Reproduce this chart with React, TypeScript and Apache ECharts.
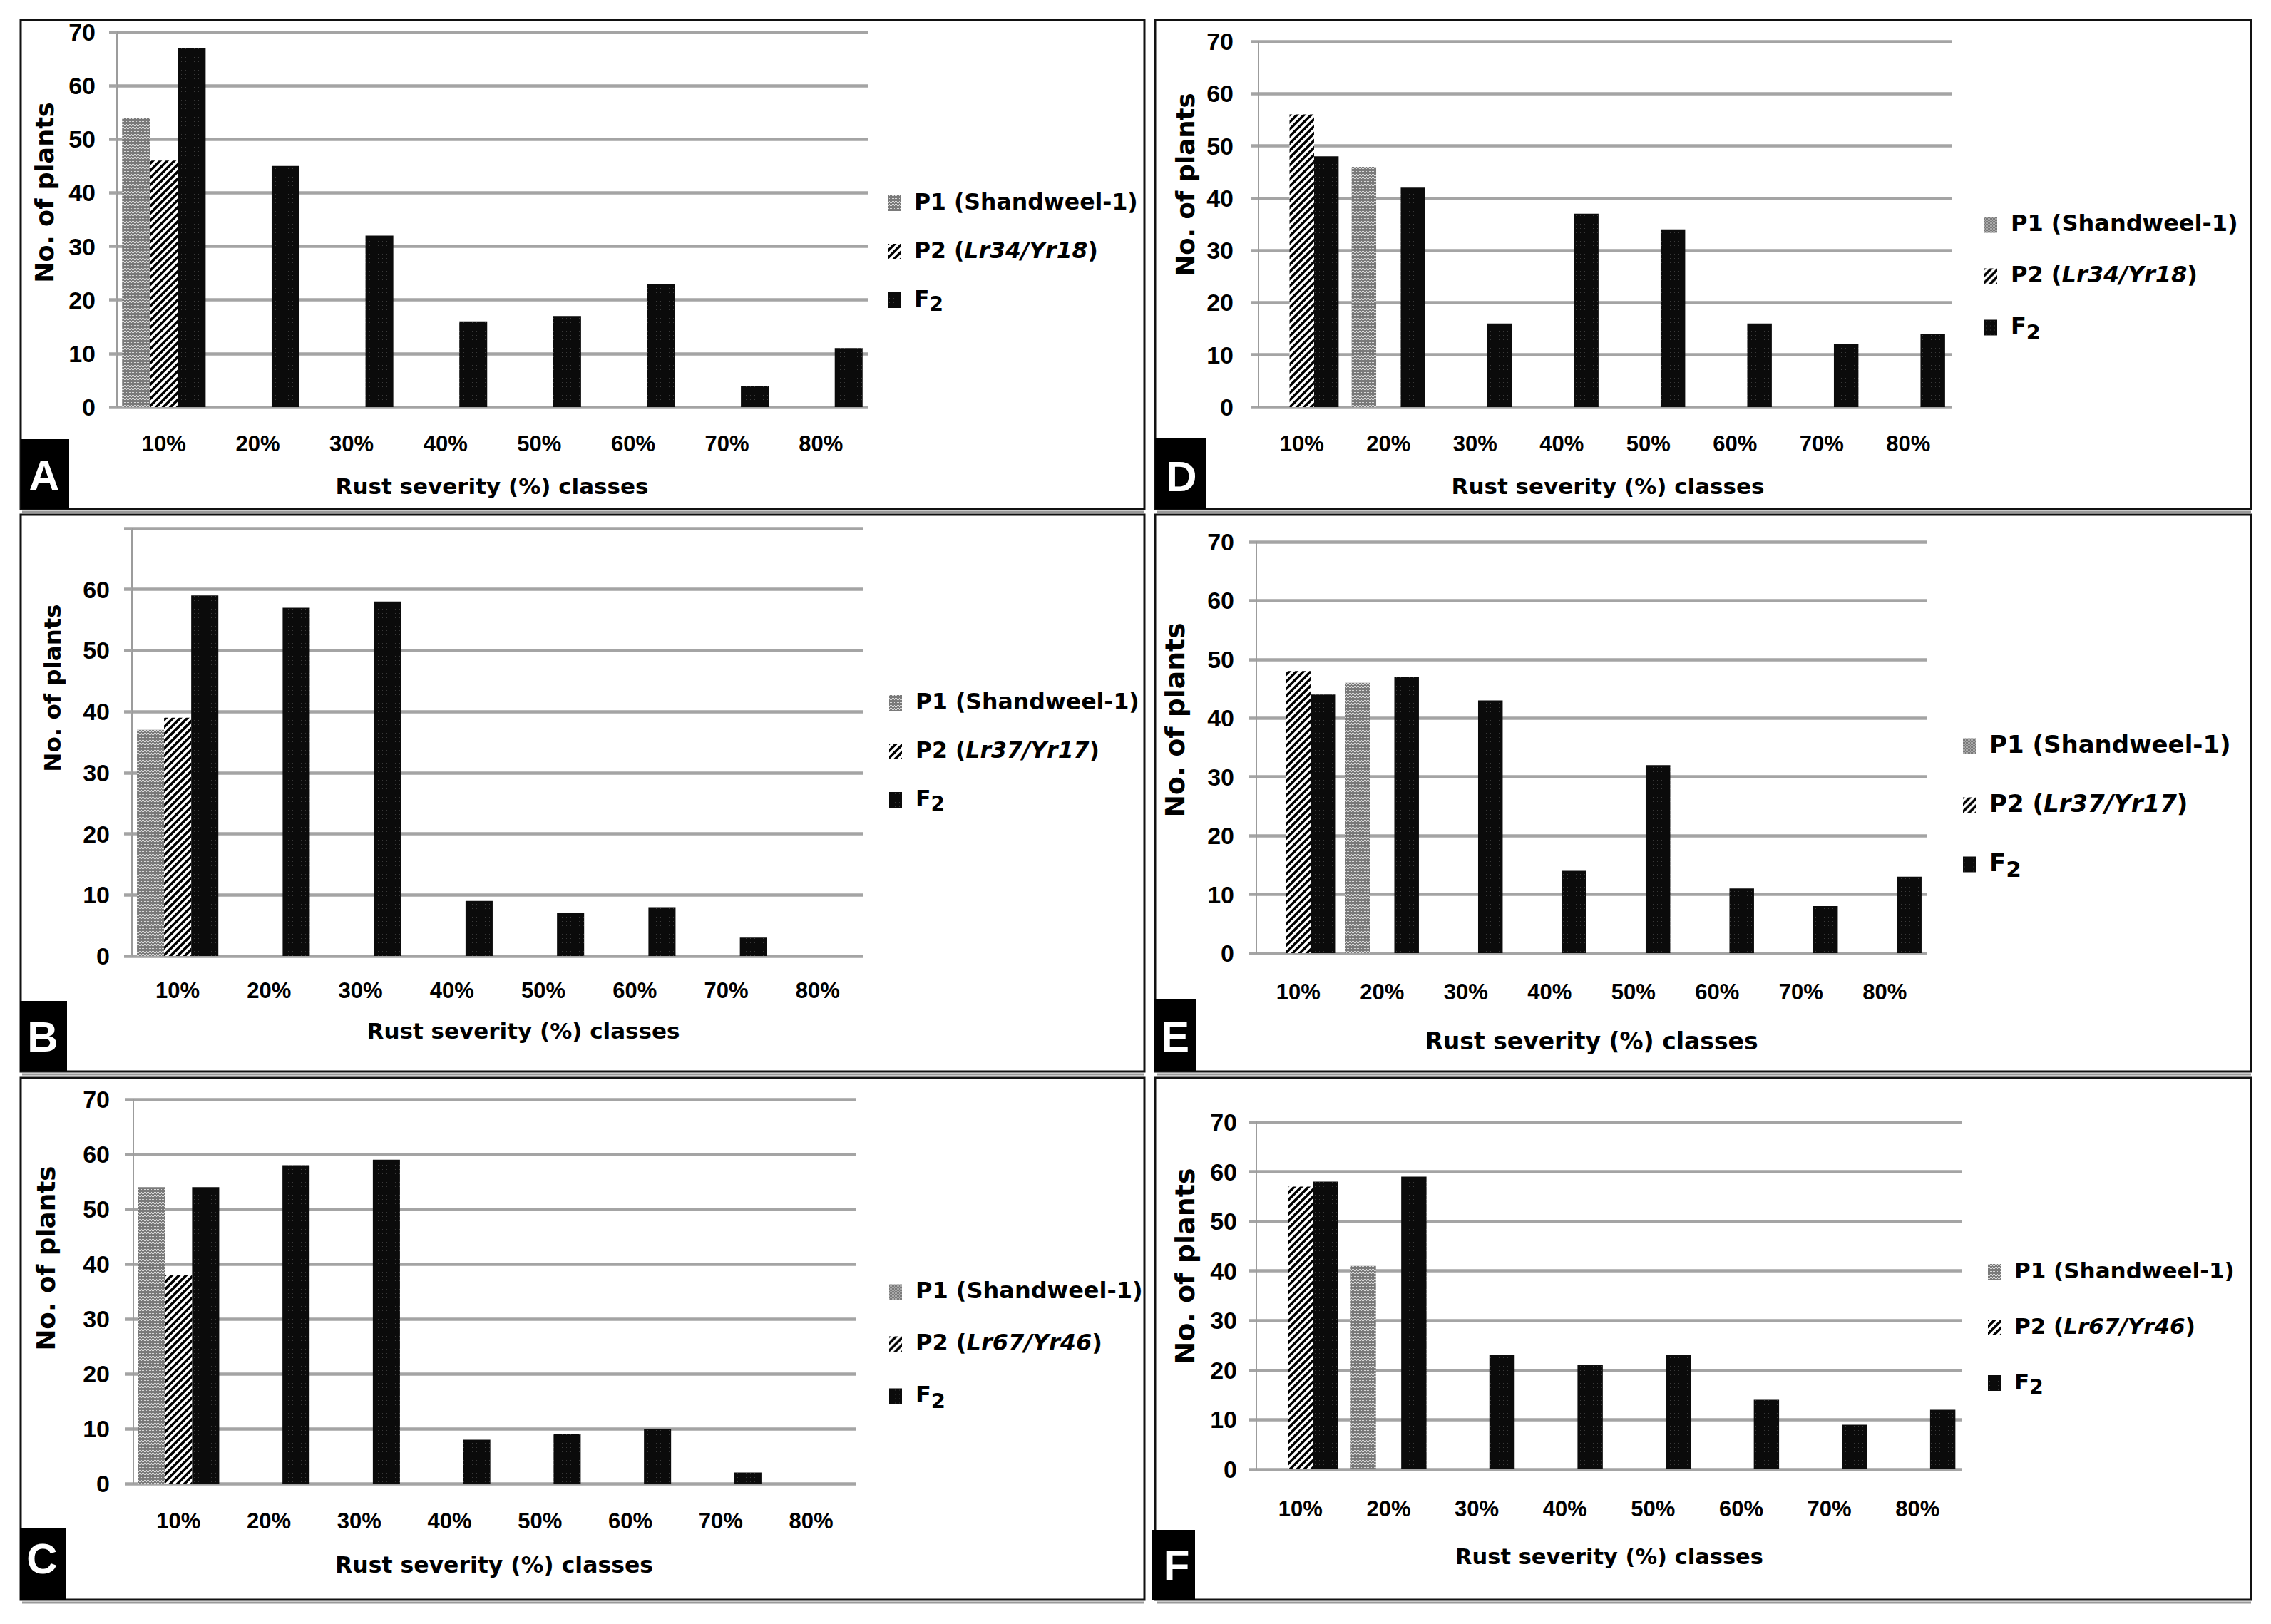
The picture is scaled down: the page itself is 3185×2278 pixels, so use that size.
import React, { useEffect, useRef } from "react";
import * as echarts from "echarts";

// ---------------- data ----------------
const categories = ["10%", "20%", "30%", "40%", "50%", "60%", "70%", "80%"];
const yTicks = [0, 10, 20, 30, 40, 50, 60, 70];

const p1Name = "P1 (Shandweel-1)";
const f2Name = "F2";
const p2NameA = "P2 (Lr34/Yr18)";
const p2NameB = "P2 (Lr37/Yr17)";
const p2NameC = "P2 (Lr67/Yr46)";

const p1A = [54, 0, 0, 0, 0, 0, 0, 0];
const p2A = [46, 0, 0, 0, 0, 0, 0, 0];
const f2A = [67, 45, 32, 16, 17, 23, 4, 11];

const p1B = [37, 0, 0, 0, 0, 0, 0, 0];
const p2B = [39, 0, 0, 0, 0, 0, 0, 0];
const f2B = [59, 57, 58, 9, 7, 8, 3, 0];

const p1C = [54, 0, 0, 0, 0, 0, 0, 0];
const p2C = [38, 0, 0, 0, 0, 0, 0, 0];
const f2C = [54, 58, 59, 8, 9, 10, 2, 0];

const p1D = [0, 46, 0, 0, 0, 0, 0, 0];
const p2D = [56, 0, 0, 0, 0, 0, 0, 0];
const f2D = [48, 42, 16, 37, 34, 16, 12, 14];

const p1E = [0, 46, 0, 0, 0, 0, 0, 0];
const p2E = [48, 0, 0, 0, 0, 0, 0, 0];
const f2E = [44, 47, 43, 14, 32, 11, 8, 13];

const p1F = [0, 41, 0, 0, 0, 0, 0, 0];
const p2F = [57, 0, 0, 0, 0, 0, 0, 0];
const f2F = [58, 59, 23, 21, 23, 14, 9, 12];

const yTitle = "No. of plants";
const xTitle = "Rust severity (%) classes";

// ---------------- layout ----------------
const FONT = "'DejaVu Sans', sans-serif";
const TICK_FONT = "'Liberation Sans', Arial, sans-serif";
const LETTER_FONT = "'Liberation Sans', Arial, sans-serif";

const panels = [
  {
    letter: "A", p1: p1A, p2: p2A, f2: f2A, p2Name: p2NameA,
    grid: { left: 164, top: 45, width: 1053, height: 526 }, gap: "11%",
    yMargin: 30, xMargin: 36, hideTop: false,
    legend: { left: 1240, top: 262, gap: 32, fs: 31.5 },
    xt: { x: 690, y: 682, fs: 31 }, yt: { x: 63, y: 270, fs: 35 },
    frame: { x: 29, y: 28, w: 1576, h: 686 },
    box: { x: 29, y: 616, w: 68, h: 98 }, lt: { x: 62, y: 667 },
  },
  {
    letter: "B", p1: p1B, p2: p2B, f2: f2B, p2Name: p2NameB,
    grid: { left: 185, top: 741, width: 1026, height: 600 }, gap: "11%",
    yMargin: 31, xMargin: 33, hideTop: true,
    legend: { left: 1242, top: 963, gap: 32, fs: 31.5 },
    xt: { x: 734, y: 1446, fs: 31 }, yt: { x: 74, y: 965, fs: 32.5 },
    frame: { x: 29, y: 722, w: 1576, h: 781 },
    box: { x: 28, y: 1404, w: 66, h: 99 }, lt: { x: 60, y: 1454 },
  },
  {
    letter: "C", p1: p1C, p2: p2C, f2: f2C, p2Name: p2NameC,
    grid: { left: 187, top: 1542, width: 1014, height: 539 }, gap: "10%",
    yMargin: 33, xMargin: 37, hideTop: false,
    legend: { left: 1242, top: 1789, gap: 36, fs: 32 },
    xt: { x: 693, y: 2195, fs: 31.5 }, yt: { x: 64, y: 1765, fs: 35.8 },
    frame: { x: 29, y: 1512, w: 1576, h: 732 },
    box: { x: 28, y: 2143, w: 64, h: 101 }, lt: { x: 59, y: 2186 },
  },
  {
    letter: "D", p1: p1D, p2: p2D, f2: f2D, p2Name: p2NameA,
    grid: { left: 1765, top: 58, width: 972, height: 513 }, gap: "15%",
    yMargin: 35, xMargin: 36, hideTop: false,
    legend: { left: 2778, top: 292, gap: 35, fs: 32 },
    xt: { x: 2255, y: 682, fs: 31 }, yt: { x: 1662, y: 259, fs: 35.5 },
    frame: { x: 1620, y: 28, w: 1537, h: 686 },
    box: { x: 1620, y: 615, w: 71, h: 99 }, lt: { x: 1657, y: 668 },
  },
  {
    letter: "E", p1: p1E, p2: p2E, f2: f2E, p2Name: p2NameB,
    grid: { left: 1762, top: 760, width: 940, height: 577 }, gap: "12%",
    yMargin: 31, xMargin: 39, hideTop: false,
    legend: { left: 2748, top: 1022, gap: 44, fs: 34 },
    xt: { x: 2232, y: 1460, fs: 33 }, yt: { x: 1648, y: 1010, fs: 37.7 },
    frame: { x: 1620, y: 722, w: 1537, h: 781 },
    box: { x: 1618, y: 1402, w: 60, h: 100 }, lt: { x: 1648, y: 1454 },
  },
  {
    letter: "F", p1: p1F, p2: p2F, f2: f2F, p2Name: p2NameC,
    grid: { left: 1762, top: 1574, width: 989, height: 487 }, gap: "14%",
    yMargin: 27, xMargin: 40, hideTop: false,
    legend: { left: 2783, top: 1761, gap: 42, fs: 31 },
    xt: { x: 2257, y: 2183, fs: 30.5 }, yt: { x: 1662, y: 1776, fs: 38 },
    frame: { x: 1620, y: 1512, w: 1537, h: 732 },
    box: { x: 1615, y: 2146, w: 61, h: 98 }, lt: { x: 1650, y: 2195 },
  },
];

function makeCanvas(w: number, h: number, draw: (ctx: CanvasRenderingContext2D) => void) {
  const c = document.createElement("canvas");
  c.width = w;
  c.height = h;
  const ctx = c.getContext("2d") as CanvasRenderingContext2D;
  draw(ctx);
  return c;
}

export default function App() {
  const ref = useRef<HTMLDivElement>(null);

  useEffect(() => {
    if (!ref.current) return;
    const chart = echarts.init(ref.current, null, { renderer: "svg" });

    const p1Canvas = makeCanvas(4, 4, (ctx) => {
      ctx.fillStyle = "#7a7a7a";
      ctx.fillRect(0, 0, 4, 4);
      ctx.fillStyle = "#d8d8d8";
      ctx.fillRect(0, 0, 1, 1);
      ctx.fillRect(2, 0, 1, 1);
      ctx.fillRect(1, 2, 1, 1);
      ctx.fillRect(3, 2, 1, 1);
    });
    const p2Canvas = makeCanvas(10, 10, (ctx) => {
      ctx.fillStyle = "#ffffff";
      ctx.fillRect(0, 0, 10, 10);
      ctx.strokeStyle = "#000000";
      ctx.lineWidth = 3.6;
      ctx.beginPath();
      ctx.moveTo(-2, 12);
      ctx.lineTo(12, -2);
      ctx.moveTo(-7, 7);
      ctx.lineTo(7, -7);
      ctx.moveTo(3, 17);
      ctx.lineTo(17, 3);
      ctx.stroke();
    });
    const f2Canvas = makeCanvas(6, 6, (ctx) => {
      ctx.fillStyle = "#0b0b0b";
      ctx.fillRect(0, 0, 6, 6);
      ctx.fillStyle = "#3a3a3a";
      ctx.fillRect(2, 2, 1, 1);
    });

    const p1Color: any = { image: p1Canvas, repeat: "repeat" };
    const p2Color: any = { image: p2Canvas, repeat: "repeat" };
    const f2Color: any = { image: f2Canvas, repeat: "repeat" };

    const gridColor = "#a4a4a4";

    const grids = panels.map((p) => ({ ...p.grid, containLabel: false }));

    const xAxes = panels.map((p, i) => ({
      type: "category",
      gridIndex: i,
      data: categories,
      axisLine: { show: false },
      axisTick: { show: false },
      splitLine: { show: false },
      axisLabel: {
        margin: p.xMargin,
        fontSize: 31,
        fontWeight: "bold",
        fontFamily: TICK_FONT,
        color: "#000",
      },
    }));

    const yAxes = panels.map((p, i) => ({
      type: "value",
      gridIndex: i,
      min: yTicks[0],
      max: yTicks[yTicks.length - 1],
      interval: yTicks[1] - yTicks[0],
      axisLine: { show: true, lineStyle: { color: "#9c9c9c", width: 2 } },
      axisTick: { show: true, length: 11, lineStyle: { color: gridColor, width: 4.5 } },
      splitLine: { show: true, lineStyle: { color: gridColor, width: 4.5 } },
      axisLabel: {
        margin: p.yMargin,
        fontSize: 34,
        fontWeight: "bold",
        fontFamily: TICK_FONT,
        color: "#000",
        formatter: (v: number) => (p.hideTop && v === yTicks[yTicks.length - 1] ? "" : String(v)),
      },
    }));

    const series: any[] = [];
    panels.forEach((p, i) => {
      const common = {
        type: "bar",
        xAxisIndex: i,
        yAxisIndex: i,
        barGap: "0%",
        barCategoryGap: p.gap,
      };
      series.push({ ...common, name: p1Name, data: p.p1, itemStyle: { color: p1Color } });
      series.push({ ...common, name: p.p2Name, data: p.p2, itemStyle: { color: p2Color } });
      series.push({ ...common, name: f2Name, data: p.f2, itemStyle: { color: f2Color } });
    });

    const legends = panels.map((p) => {
      const fs = p.legend.fs;
      const lh = Math.round(fs * 1.15);
      return {
        orient: "vertical",
        left: p.legend.left,
        top: p.legend.top,
        itemGap: p.legend.gap,
        itemWidth: 18,
        itemHeight: 22,
        icon: "rect",
        selectedMode: false,
        data: [p1Name, p.p2Name, f2Name],
        formatter: (name: string) => {
          if (name === f2Name) return "{m|F}{sub|2}";
          const m = name.match(/^P2 \((.*)\)$/);
          if (m) return "{m|P2 (}{i|" + m[1] + "}{m|)}";
          return "{m|" + name + "}";
        },
        textStyle: {
          fontSize: fs,
          fontWeight: "bold",
          fontFamily: FONT,
          color: "#000",
          lineHeight: lh,
          padding: [0, 0, 0, 14],
          rich: {
            m: { fontSize: fs, fontWeight: "bold", fontFamily: FONT, color: "#000", lineHeight: lh, verticalAlign: "top" },
            i: { fontSize: fs, fontWeight: "bold", fontStyle: "italic", fontFamily: FONT, color: "#000", lineHeight: lh, verticalAlign: "top" },
            sub: {
              fontSize: Math.round(fs * 0.9),
              fontWeight: "bold",
              fontFamily: FONT,
              color: "#000",
              lineHeight: Math.round(fs * 0.9 * 1.15),
              verticalAlign: "top",
              padding: [Math.round(fs * 0.3), 0, 0, 0],
            },
          },
        },
      };
    });

    const graphics: any[] = [];
    panels.forEach((p) => {
      graphics.push({
        type: "rect",
        shape: { x: p.frame.x, y: p.frame.y, width: p.frame.w, height: p.frame.h },
        style: { fill: "none", stroke: "#111", lineWidth: 3 },
        silent: true,
      });
      graphics.push({
        type: "line",
        shape: { x1: p.frame.x + 2, y1: p.frame.y + p.frame.h + 4, x2: p.frame.x + p.frame.w, y2: p.frame.y + p.frame.h + 4 },
        style: { stroke: "#9a9a9a", lineWidth: 3 },
        silent: true,
      });
      graphics.push({
        type: "rect",
        shape: { x: p.box.x, y: p.box.y, width: p.box.w, height: p.box.h },
        style: { fill: "#000" },
        silent: true,
      });
      graphics.push({
        type: "text",
        x: p.lt.x,
        y: p.lt.y,
        style: {
          text: p.letter,
          font: `bold 60px ${LETTER_FONT}`,
          fill: "#fff",
          align: "center",
          verticalAlign: "middle",
          textAlign: "center",
          textVerticalAlign: "middle",
        },
        silent: true,
      });
      graphics.push({
        type: "text",
        x: p.xt.x,
        y: p.xt.y,
        style: {
          text: xTitle,
          font: `bold ${p.xt.fs}px ${FONT}`,
          fill: "#000",
          align: "center",
          verticalAlign: "middle",
          textAlign: "center",
          textVerticalAlign: "middle",
        },
        silent: true,
      });
      graphics.push({
        type: "text",
        x: p.yt.x,
        y: p.yt.y,
        rotation: Math.PI / 2,
        style: {
          text: yTitle,
          font: `bold ${p.yt.fs}px ${FONT}`,
          fill: "#000",
          align: "center",
          verticalAlign: "middle",
          textAlign: "center",
          textVerticalAlign: "middle",
        },
        silent: true,
      });
    });

    chart.setOption({
      animation: false,
      backgroundColor: "#fff",
      grid: grids,
      xAxis: xAxes,
      yAxis: yAxes,
      legend: legends,
      series,
      graphic: { elements: graphics },
    } as any);

    return () => chart.dispose();
  }, []);

  return (
    <div
      ref={ref}
      style={{ position: "absolute", left: 0, top: 0, width: 3185, height: 2278, background: "#fff" }}
    />
  );
}
